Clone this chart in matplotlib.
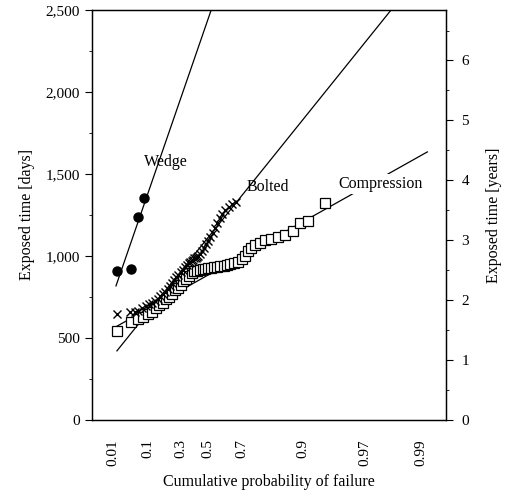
import matplotlib
matplotlib.use("Agg")
import matplotlib.pyplot as plt
import numpy as np
from matplotlib.ticker import FuncFormatter, MultipleLocator, FixedLocator

plt.rcParams["font.family"] = ["Liberation Serif", "DejaVu Serif"]


# extreme value (Gumbel) probability paper
def fwd(p):
    p = np.clip(p, 1e-12, 1 - 1e-12)
    return -np.log(-np.log(p))


def inv(u):
    return np.exp(-np.exp(-u))


# data
wedge_p = [0.014, 0.039, 0.060, 0.082]
wedge_days = [908, 921, 1238, 1354]

bolted_p = [0.014, 0.038, 0.050, 0.060, 0.075, 0.090, 0.105, 0.120, 0.135,
            0.150, 0.165, 0.180, 0.195, 0.210, 0.225, 0.240, 0.255, 0.270,
            0.285, 0.300, 0.315, 0.330, 0.345, 0.360, 0.370, 0.380, 0.390,
            0.400, 0.410, 0.420, 0.430, 0.440, 0.455, 0.470, 0.485, 0.500,
            0.515, 0.530, 0.545, 0.560, 0.575, 0.590, 0.610, 0.630, 0.650,
            0.670]
bolted_days = [645, 655, 658, 662, 680, 695, 705, 715, 725,
               740, 755, 765, 780, 800, 815, 835, 855, 870,
               885, 900, 915, 930, 945, 955, 965, 970, 975,
               985, 990, 995, 1000, 1010, 1030, 1050, 1070, 1090,
               1115, 1140, 1170, 1200, 1230, 1255, 1280, 1300, 1315,
               1330]

comp_p = [0.014, 0.040, 0.060, 0.080, 0.100, 0.120, 0.140, 0.160, 0.180,
          0.200, 0.220, 0.240, 0.260, 0.280, 0.300, 0.320, 0.340, 0.360,
          0.380, 0.400, 0.420, 0.440, 0.460, 0.480, 0.500, 0.520, 0.540,
          0.560, 0.580, 0.600, 0.620, 0.640, 0.660, 0.680, 0.700, 0.715,
          0.730, 0.745, 0.760, 0.780, 0.800, 0.820, 0.840, 0.860, 0.880,
          0.895, 0.910, 0.935]
comp_days = [545, 595, 615, 630, 645, 660, 680, 700, 715,
             735, 750, 770, 790, 805, 825, 845, 860, 880,
             895, 905, 910, 915, 918, 922, 925, 928, 930,
             933, 937, 940, 945, 950, 957, 965, 980, 1000,
             1030, 1050, 1065, 1080, 1095, 1105, 1115, 1130, 1150,
             1200, 1215, 1320]

# fitted lines (end points)
wedge_fit_p = [0.0128, 0.520]
wedge_fit_days = [817, 2500]
bolted_fit_p = [0.0139, 0.982]
bolted_fit_days = [421, 2500]
comp_fit_p = [0.0107, 0.9912]
comp_fit_days = [561, 1634]

prob_ticks = [0.01, 0.1, 0.3, 0.5, 0.7, 0.9, 0.97, 0.99]
prob_labels = ["0.01", "0.1", "0.3", "0.5", "0.7", "0.9", "0.97", "0.99"]

fig = plt.figure(figsize=(5.15, 4.94), dpi=100)
ax = fig.add_axes([0.1786, 0.150, 0.6874, 0.830])
ax.set_xscale("function", functions=(fwd, inv))

lk = dict(color="black", lw=0.9, zorder=2)
ax.plot(wedge_fit_p, wedge_fit_days, **lk)
ax.plot(bolted_fit_p, bolted_fit_days, **lk)
ax.plot(comp_fit_p, comp_fit_days, **lk)

ax.plot(wedge_p, wedge_days, "o", ms=6.5, color="black", zorder=3)
ax.plot(comp_p, comp_days, "s", ms=6.5, mfc="white", mec="black", mew=0.9,
        zorder=3)
ax.plot(bolted_p, bolted_days, "x", ms=6, color="black", mew=1.0, zorder=4)

tk = dict(fontsize=11.5, ha="center", va="center", zorder=5)
ax.text(0.209, 0.629, "Wedge", transform=ax.transAxes, **tk)
ax.text(0.497, 0.568, "Bolted", transform=ax.transAxes, **tk)
ax.text(0.816, 0.576, "Compression", transform=ax.transAxes,
        bbox=dict(fc="white", ec="none", pad=1.5), **tk)

ax.set_xlim(inv(-1.95), inv(5.10))
ax.set_ylim(0, 2500)
ax.xaxis.set_major_locator(FixedLocator(prob_ticks))
ax.set_xticklabels(prob_labels, rotation=90, fontsize=11)
ax.xaxis.set_minor_locator(FixedLocator([]))
ax.tick_params(axis="x", length=0, pad=14)
ax.set_xlabel("Cumulative probability of failure", fontsize=11.5, labelpad=6)

ax.yaxis.set_major_locator(MultipleLocator(500))
ax.yaxis.set_minor_locator(MultipleLocator(250))
ax.yaxis.set_major_formatter(FuncFormatter(lambda v, _: f"{int(v):,}"))
ax.tick_params(axis="y", which="major", direction="out", length=5,
               labelsize=11)
ax.tick_params(axis="y", which="minor", direction="out", length=2)
ax.set_ylabel("Exposed time [days]", fontsize=11.5, labelpad=8)

ax2 = ax.twinx()
ax2.set_ylim(0, 2500 / 365.25)
ax2.yaxis.set_major_locator(MultipleLocator(1))
ax2.yaxis.set_minor_locator(MultipleLocator(0.5))
ax2.tick_params(axis="y", which="major", direction="out", length=5,
                labelsize=11, pad=6)
ax2.tick_params(axis="y", which="minor", direction="out", length=2)
ax2.set_ylabel("Exposed time [years]", fontsize=11.5, labelpad=12)

for a in (ax, ax2):
    for s in a.spines.values():
        s.set_linewidth(0.9)

fig.savefig("out.png", dpi=100)
